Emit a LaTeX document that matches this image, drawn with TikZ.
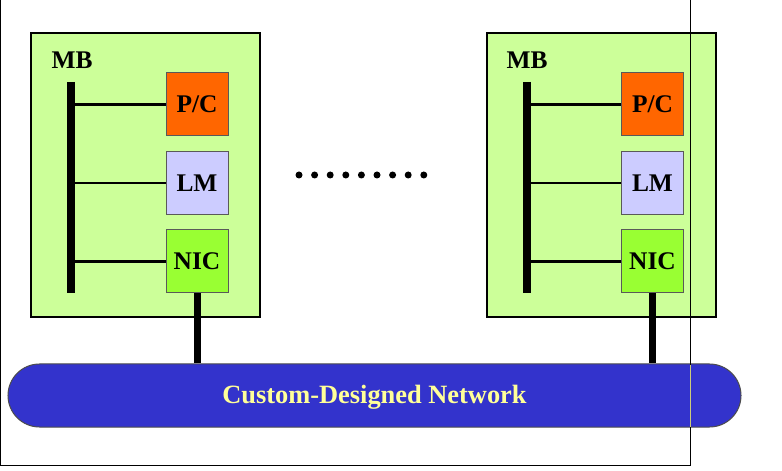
\documentclass[tikz,border=0pt]{standalone}
\usepackage{fontspec}
\setmainfont{Liberation Serif}
\usetikzlibrary{calc}

\definecolor{boardgreen}{HTML}{CCFF99}
\definecolor{pcorange}{HTML}{FF6600}
\definecolor{lmlilac}{HTML}{CCCCFF}
\definecolor{nicgreen}{HTML}{99FF33}
\definecolor{netblue}{HTML}{3333CC}
\definecolor{netyellow}{HTML}{FFFF99}

\tikzset{
  board/.style={draw, line width=2.5bp, fill=boardgreen, minimum width=229bp, minimum height=284bp, inner sep=0pt},
  unitbox/.style={draw=black!65, line width=1bp, minimum width=62bp, minimum height=63bp, inner sep=0pt, font=\fontsize{25.5}{29}\selectfont\bfseries},
  mblabel/.style={inner sep=0pt, font=\fontsize{25.5}{29}\selectfont\bfseries},
  bus/.style={line width=8bp},
  tap/.style={line width=2.5bp},
  trunk/.style={line width=7bp},
}

\begin{document}
\begin{tikzpicture}[x=1bp, y=-1bp]
    \useasboundingbox (0,0) rectangle (782,471);

    % Left motherboard
    \node[board] (MB1) at (145.5,175) {};
    \node[mblabel] (MBL1) at (72,60) {MB};
    \node[unitbox, fill=pcorange] (PC1) at (197,104.5) {P/C};
    \node[unitbox, fill=lmlilac] (LM1) at (197,183) {LM};
    \node[unitbox, fill=nicgreen] (NIC1) at (197,261.5) {NIC};
    \coordinate (BusTop1) at (71,82);
    \coordinate (BusBot1) at (71,293);

    % Right motherboard
    \node[board] (MB2) at (601.5,175) {};
    \node[mblabel] (MBL2) at (527,60) {MB};
    \node[unitbox, fill=pcorange] (PC2) at (652.5,104.5) {P/C};
    \node[unitbox, fill=lmlilac] (LM2) at (652.5,183) {LM};
    \node[unitbox, fill=nicgreen] (NIC2) at (652.5,261.5) {NIC};
    \coordinate (BusTop2) at (526.5,82);
    \coordinate (BusBot2) at (526.5,293);

    % Buses and taps
    \draw[bus] (BusTop1) -- (BusBot1);
    \draw[bus] (BusTop2) -- (BusBot2);
    \draw[tap] (PC1.west) -- (PC1.west -| BusTop1);
    \draw[tap] (LM1.west) -- (LM1.west -| BusTop1);
    \draw[tap] (NIC1.west) -- (NIC1.west -| BusTop1);
    \draw[tap] (PC2.west) -- (PC2.west -| BusTop2);
    \draw[tap] (LM2.west) -- (LM2.west -| BusTop2);
    \draw[tap] (NIC2.west) -- (NIC2.west -| BusTop2);

    % Ellipsis between the boards
    \fill (299,175) circle (3.5bp) (314.6,175) circle (3.5bp) (330.2,175) circle (3.5bp)
          (345.8,175) circle (3.5bp) (361.4,175) circle (3.5bp) (377,175) circle (3.5bp)
          (392.6,175) circle (3.5bp) (408.2,175) circle (3.5bp) (423.8,175) circle (3.5bp);

    % Network
    \node[draw=black!70, line width=1bp, fill=netblue, rounded corners=31.5bp, minimum width=733bp, minimum height=63bp] (Net) at (374.5,395.5) {};
    \node[text=netyellow, font=\fontsize{26.5}{30}\selectfont\bfseries, yshift=-1.3bp] (NetText) at (Net) {Custom-Designed Network};
    \draw[trunk] (NIC1.south) -- (NIC1.south |- Net.north);
    \draw[trunk] (NIC2.south) -- (NIC2.south |- Net.north);

    % Frame
    \draw[line width=1bp] (0,0) rectangle (690.5,465);
    \draw[line width=1bp, netyellow!80!black] (690.5,364.5) -- (690.5,426.5);
\end{tikzpicture}
\end{document}
